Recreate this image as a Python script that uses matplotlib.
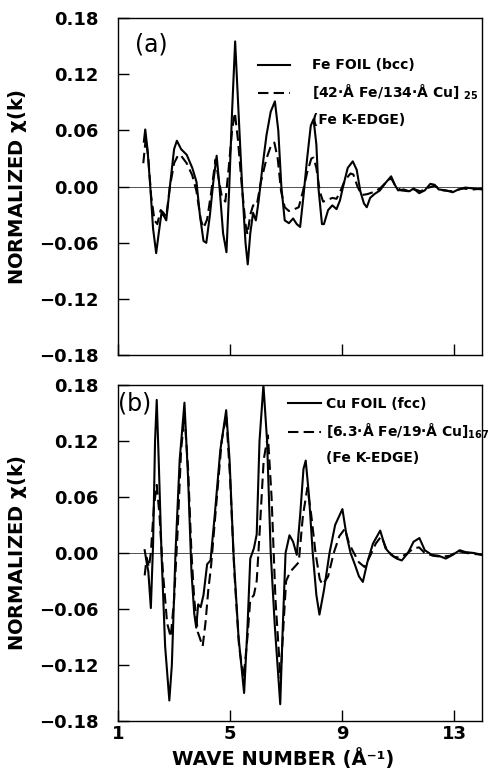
import matplotlib
matplotlib.use("Agg")
import matplotlib.pyplot as plt
from matplotlib.lines import Line2D
from matplotlib.ticker import FuncFormatter

plt.rcParams['font.family'] = ['DejaVu Sans']
plt.rcParams['mathtext.default'] = 'bf'

# (a) Fe foil vs Fe/Cu multilayer
fe_k = [1.92, 1.97, 2.05, 2.15, 2.25, 2.36, 2.45, 2.55, 2.65, 2.72, 2.85, 3.00, 3.10, 3.25, 3.45,
        3.65, 3.80, 3.92, 4.05, 4.15, 4.28, 4.40, 4.52, 4.62, 4.75, 4.87, 4.97, 5.07, 5.18, 5.30,
        5.43, 5.55, 5.63, 5.72, 5.82, 5.92, 6.02, 6.15, 6.30, 6.45, 6.60, 6.72, 6.83, 6.95, 7.10,
        7.25, 7.38, 7.50, 7.62, 7.75, 7.88, 7.98, 8.08, 8.15, 8.28, 8.35, 8.50, 8.65, 8.80, 8.92,
        9.05, 9.20, 9.38, 9.52, 9.65, 9.78, 9.88, 10.00, 10.15, 10.35, 10.55, 10.75, 10.88, 11.00,
        11.20, 11.40, 11.55, 11.75, 11.95, 12.15, 12.30, 12.45, 12.70, 12.95, 13.15, 13.40, 13.70, 14.0]
fe_foil = [0.048, 0.061, 0.040, 0.000, -0.045, -0.071, -0.050, -0.028, -0.032, -0.036, 0.000, 0.040,
           0.049, 0.040, 0.034, 0.020, 0.005, -0.030, -0.058, -0.060, -0.030, 0.005, 0.033, 0.000,
           -0.050, -0.070, 0.000, 0.080, 0.155, 0.080, 0.000, -0.060, -0.083, -0.050, -0.028, -0.036,
           -0.015, 0.020, 0.055, 0.080, 0.091, 0.060, 0.000, -0.036, -0.039, -0.034, -0.040, -0.043,
           -0.010, 0.030, 0.065, 0.072, 0.045, 0.000, -0.040, -0.040, -0.025, -0.020, -0.024, -0.015,
           0.002, 0.020, 0.027, 0.018, -0.005, -0.018, -0.022, -0.012, -0.008, -0.004, 0.004, 0.011,
           0.002, -0.004, -0.003, -0.005, -0.002, -0.007, -0.004, 0.003, 0.002, -0.003, -0.004, -0.006,
           -0.003, -0.001, -0.002, -0.003]

fecu_k = [1.90, 1.95, 1.99, 2.08, 2.18, 2.30, 2.40, 2.52, 2.62, 2.72, 2.85, 3.00, 3.15, 3.25, 3.45,
          3.65, 3.80, 3.95, 4.05, 4.18, 4.33, 4.48, 4.58, 4.70, 4.83, 4.95, 5.07, 5.17, 5.28, 5.42,
          5.55, 5.62, 5.72, 5.82, 5.95, 6.10, 6.30, 6.45, 6.58, 6.70, 6.82, 6.95, 7.10, 7.30, 7.45,
          7.60, 7.75, 7.90, 7.98, 8.08, 8.20, 8.32, 8.50, 8.65, 8.80, 8.95, 9.10, 9.30, 9.40, 9.55,
          9.70, 9.90, 10.10, 10.35, 10.55, 10.75, 10.90, 11.10, 11.40, 11.60, 11.80, 12.10, 12.30,
          12.60, 12.95, 13.30, 13.70, 14.0]
fecu_a = [0.025, 0.040, 0.052, 0.030, -0.010, -0.036, -0.040, -0.025, -0.028, -0.032, 0.000, 0.025,
          0.034, 0.033, 0.025, 0.012, -0.005, -0.035, -0.044, -0.035, -0.005, 0.029, 0.010, -0.010,
          -0.016, 0.020, 0.060, 0.079, 0.050, 0.000, -0.040, -0.051, -0.030, -0.020, -0.020, 0.005,
          0.030, 0.043, 0.047, 0.030, -0.005, -0.022, -0.026, -0.024, -0.022, -0.005, 0.015, 0.030,
          0.031, 0.020, -0.005, -0.016, -0.014, -0.012, -0.013, -0.004, 0.007, 0.014, 0.013, 0.000,
          -0.009, -0.008, -0.006, -0.002, 0.004, 0.009, 0.001, -0.004, -0.005, -0.003, -0.005, -0.001,
          0.001, -0.004, -0.005, -0.002, -0.003, -0.002]

# (b) Cu foil vs Fe/Cu multilayer
cu_k = [1.95, 2.02, 2.08, 2.17, 2.25, 2.32, 2.38, 2.45, 2.55, 2.68, 2.83, 2.92, 3.05, 3.20, 3.37,
        3.50, 3.62, 3.72, 3.79, 3.86, 3.95, 4.05, 4.18, 4.30, 4.45, 4.65, 4.86, 4.98, 5.12, 5.30,
        5.50, 5.62, 5.72, 5.85, 5.95, 6.05, 6.19, 6.32, 6.45, 6.60, 6.79, 6.88, 6.98, 7.12, 7.25,
        7.38, 7.50, 7.62, 7.70, 7.82, 7.95, 8.08, 8.19, 8.35, 8.55, 8.75, 9.01, 9.15, 9.30, 9.45,
        9.60, 9.74, 9.90, 10.10, 10.36, 10.55, 10.75, 10.95, 11.13, 11.35, 11.55, 11.76, 11.95,
        12.20, 12.45, 12.70, 12.95, 13.20, 13.40, 13.70, 14.0]
cu_foil = [0.003, -0.010, -0.020, -0.059, 0.010, 0.120, 0.164, 0.100, 0.000, -0.100, -0.158, -0.120,
           0.000, 0.100, 0.161, 0.080, -0.020, -0.065, -0.080, -0.055, -0.058, -0.045, -0.012, -0.008,
           0.040, 0.110, 0.153, 0.100, 0.000, -0.090, -0.150, -0.080, -0.006, 0.005, 0.020, 0.120,
           0.180, 0.120, 0.000, -0.080, -0.162, -0.080, 0.000, 0.019, 0.012, -0.002, 0.040, 0.090,
           0.099, 0.060, 0.000, -0.045, -0.066, -0.040, 0.000, 0.030, 0.047, 0.020, 0.000, -0.012,
           -0.025, -0.031, -0.010, 0.010, 0.024, 0.005, -0.002, -0.006, -0.008, 0.000, 0.012, 0.016,
           0.003, -0.002, -0.003, -0.006, -0.002, 0.003, 0.001, 0.000, -0.002]

fecu_k2 = [1.95, 2.02, 2.10, 2.17, 2.28, 2.38, 2.48, 2.60, 2.75, 2.88, 3.00, 3.12, 3.25, 3.37, 3.50,
           3.62, 3.72, 3.85, 4.02, 4.12, 4.22, 4.32, 4.50, 4.70, 4.86, 5.00, 5.15, 5.32, 5.48, 5.62,
           5.72, 5.85, 5.95, 6.05, 6.20, 6.35, 6.48, 6.62, 6.80, 6.90, 7.00, 7.15, 7.30, 7.45, 7.60,
           7.76, 7.90, 8.05, 8.20, 8.30, 8.50, 8.70, 8.90, 9.10, 9.25, 9.42, 9.60, 9.80, 10.00, 10.20,
           10.40, 10.60, 10.85, 11.05, 11.30, 11.55, 11.75, 11.95, 12.25, 12.55, 12.85, 13.15, 13.45,
           14.0]
fecu_b = [-0.024, -0.005, -0.015, 0.000, 0.050, 0.073, 0.040, -0.020, -0.075, -0.090, -0.050, 0.020,
          0.110, 0.148, 0.090, 0.000, -0.050, -0.085, -0.100, -0.075, -0.040, -0.014, 0.050, 0.120,
          0.148, 0.080, -0.020, -0.100, -0.134, -0.090, -0.050, -0.045, -0.030, 0.020, 0.100, 0.126,
          0.060, -0.050, -0.134, -0.080, -0.030, -0.020, -0.015, -0.010, 0.040, 0.070, 0.040, 0.000,
          -0.028, -0.034, -0.025, 0.000, 0.018, 0.026, 0.010, 0.000, -0.010, -0.015, -0.003, 0.010,
          0.018, 0.003, -0.004, -0.005, -0.001, 0.005, 0.006, 0.000, -0.003, -0.004, -0.003, 0.002,
          0.000, -0.002]

yticks = [-0.18, -0.12, -0.06, 0.00, 0.06, 0.12, 0.18]
xticks = [1, 5, 9, 13]

fig = plt.figure(figsize=(4.92, 7.69), dpi=100)
ax1 = fig.add_axes([0.240, 0.538, 0.740, 0.4386])
ax2 = fig.add_axes([0.240, 0.0624, 0.740, 0.4370])

fmt = FuncFormatter(lambda v, p: ('%.2f' % v).replace('-', '\u2212'))

for ax in (ax1, ax2):
    ax.axhline(0, color='#333333', lw=0.6, zorder=1)
    ax.set_xlim(1, 14)
    ax.set_ylim(-0.18, 0.18)
    ax.set_yticks(yticks)
    ax.set_xticks(xticks)
    ax.yaxis.set_major_formatter(fmt)
    ax.tick_params(direction='in', top=False, right=False, length=8, width=1)
    ax.tick_params(axis='y', pad=14, labelsize=13)
    ax.tick_params(axis='x', pad=3, labelsize=13)
    for lbl in ax.get_yticklabels() + ax.get_xticklabels():
        lbl.set_fontweight('bold')
    for s in ax.spines.values():
        s.set_linewidth(1.0)
    ax.set_ylabel('NORMALIZED $\\chi$(k)', fontsize=14, fontweight='bold')
    ax.yaxis.set_label_coords(-0.245, 0.5)

ax1.tick_params(axis='x', labelbottom=False)

ax1.plot(fe_k, fe_foil, color='black', lw=1.5, zorder=3)
ax1.plot(fecu_k, fecu_a, color='black', lw=1.5, ls=(0, (5, 2.5)), zorder=2)
ax2.plot(cu_k, cu_foil, color='black', lw=1.5, zorder=3)
ax2.plot(fecu_k2, fecu_b, color='black', lw=1.5, ls=(0, (5, 2.5)), zorder=2)

ax1.text(0.047, 0.92, '(a)', transform=ax1.transAxes, fontsize=17, va='center', ha='left')
ax2.text(0.0, 0.946, '(b)', transform=ax2.transAxes, fontsize=17, va='center', ha='left')

# legends: third entry has no line, just the "(Fe K-EDGE)" row
def make_legend(ax, labels, x0, y0, hlen, hpad):
    hs = [Line2D([], [], color='black', lw=1.5),
          Line2D([], [], color='black', lw=1.5, ls=(0, (5, 2.5))),
          Line2D([], [], color='none')]
    leg = ax.legend(hs, labels, loc='upper left', bbox_to_anchor=(x0, y0), frameon=False,
                    handlelength=hlen, handletextpad=hpad, borderpad=0, borderaxespad=0,
                    labelspacing=0.75, prop={'weight': 'bold', 'size': 10})
    return leg

make_legend(ax1, ['Fe FOIL (bcc)', '[42·Å Fe/134·Å Cu] $_{25}$', '(Fe K-EDGE)'],
            0.385, 0.88, 2.3, 1.6)
make_legend(ax2, ['Cu FOIL (fcc)', '[6.3·Å Fe/19·Å Cu]$_{167}$', '(Fe K-EDGE)'],
            0.467, 0.964, 2.4, 0.3)

ax2.set_xlabel('WAVE NUMBER (Å\u207b\u00b9)', fontsize=14, fontweight='bold')
ax2.xaxis.set_label_coords(0.453, -0.08)

fig.savefig('out.png', dpi=100)
